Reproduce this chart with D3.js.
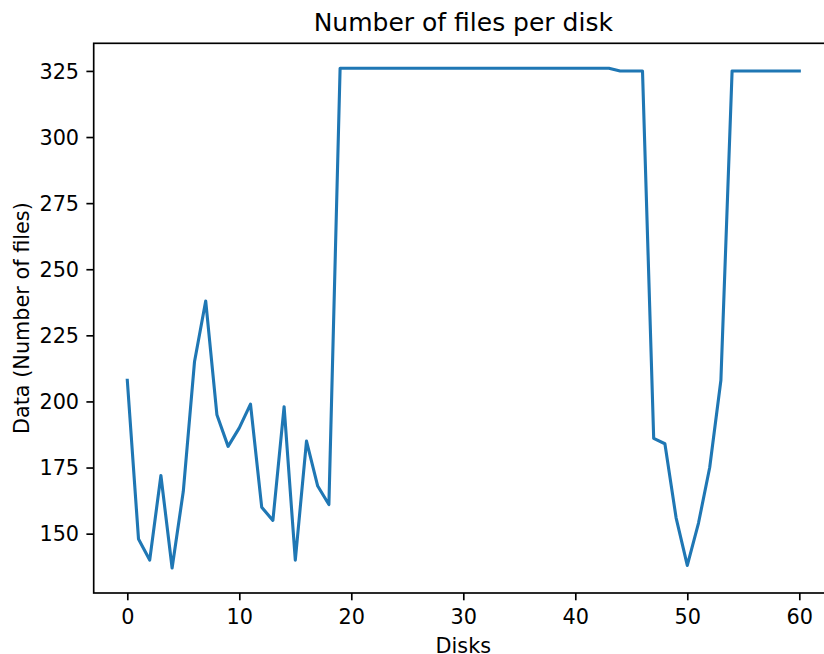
<!DOCTYPE html>
<html>
<head>
  <meta http-equiv="Content-Type" content="text/html;charset=utf-8">
  <title>Number of files per disk</title>
  <script src="https://d3js.org/d3.v7.min.js"></script>
  <style type="text/css">
    body { margin: 0; background: #fff; }
    svg { display: block; font-family: "DejaVu Sans", sans-serif; }
    .axis path, .axis line { stroke: #000; stroke-width: 1.67px; }
    .axis text { font-size: 20.8px; fill: #000; font-family: "DejaVu Sans", sans-serif; }
  </style>
</head>
<body>
  <svg width="824" height="654"></svg>
  <script type='text/javascript'>
    // data
    const disks = [
      0, 1, 2, 3, 4, 5, 6, 7, 8, 9, 10, 11, 12, 13, 14, 15, 16, 17, 18, 19,
      20, 21, 22, 23, 24, 25, 26, 27, 28, 29, 30, 31, 32, 33, 34, 35, 36, 37, 38, 39,
      40, 41, 42, 43, 44, 45, 46, 47, 48, 49, 50, 51, 52, 53, 54, 55, 56, 57, 58, 59, 60
    ];
    const files = [
      208, 148, 140, 172, 137, 166, 215, 238, 195, 183, 190, 199, 160, 155, 198, 140, 185, 168, 161, 326,
      326, 326, 326, 326, 326, 326, 326, 326, 326, 326, 326, 326, 326, 326, 326, 326, 326, 326, 326, 326,
      326, 326, 326, 326, 325, 325, 325, 186, 184, 156, 138, 154, 175, 208, 325, 325, 325, 325, 325, 325, 325
    ];
    const xTicks = [0, 10, 20, 30, 40, 50, 60];
    const yTicks = [150, 175, 200, 225, 250, 275, 300, 325];

    const svg = d3.select('svg');
    const axL = 93.7, axT = 43.3, axR = 832.9, axB = 593;

    // matplotlib-like 5% margins
    const xMin = d3.min(disks), xMax = d3.max(disks);
    const yMin = d3.min(files), yMax = d3.max(files);
    const xPad = (xMax - xMin) * 0.05, yPad = (yMax - yMin) * 0.05;

    const x = d3.scaleLinear().domain([xMin - xPad, xMax + xPad]).range([axL, axR]);
    const y = d3.scaleLinear().domain([yMin - yPad, yMax + yPad]).range([axB, axT]);

    const line = d3.line()
      .x((d, i) => x(disks[i]))
      .y(d => y(d));

    svg.append('path')
      .datum(files)
      .attr('d', line)
      .attr('fill', 'none')
      .attr('stroke', '#1f77b4')
      .attr('stroke-width', 3.1)
      .attr('stroke-linejoin', 'round')
      .attr('stroke-linecap', 'square');

    const xAxis = svg.append('g')
      .attr('class', 'axis')
      .attr('transform', `translate(0,${axB})`)
      .call(d3.axisBottom(x).tickValues(xTicks).tickSize(7.3).tickPadding(7.3).tickSizeOuter(0));
    xAxis.select('.domain').remove();
    xAxis.selectAll('text').attr('dy', null).attr('y', 31.3);

    const yAxis = svg.append('g')
      .attr('class', 'axis')
      .attr('transform', `translate(${axL},0)`)
      .call(d3.axisLeft(y).tickValues(yTicks).tickSize(7.3).tickPadding(7.3).tickSizeOuter(0));
    yAxis.select('.domain').remove();
    yAxis.selectAll('text').attr('dy', '0.35em');

    // spines
    svg.append('rect')
      .attr('x', axL).attr('y', axT)
      .attr('width', axR - axL).attr('height', axB - axT)
      .attr('fill', 'none')
      .attr('stroke', '#000')
      .attr('stroke-width', 1.67);

    svg.append('text')
      .attr('x', (axL + axR) / 2)
      .attr('y', 30.8)
      .attr('text-anchor', 'middle')
      .attr('font-size', '25px')
      .text('Number of files per disk');

    svg.append('text')
      .attr('x', (axL + axR) / 2)
      .attr('y', 653.3)
      .attr('text-anchor', 'middle')
      .attr('font-size', '20.8px')
      .text('Disks');

    svg.append('text')
      .attr('transform', `translate(28.8,${(axT + axB) / 2}) rotate(-90)`)
      .attr('text-anchor', 'middle')
      .attr('font-size', '20.8px')
      .text('Data (Number of files)');
  </script>
</body>
</html>
